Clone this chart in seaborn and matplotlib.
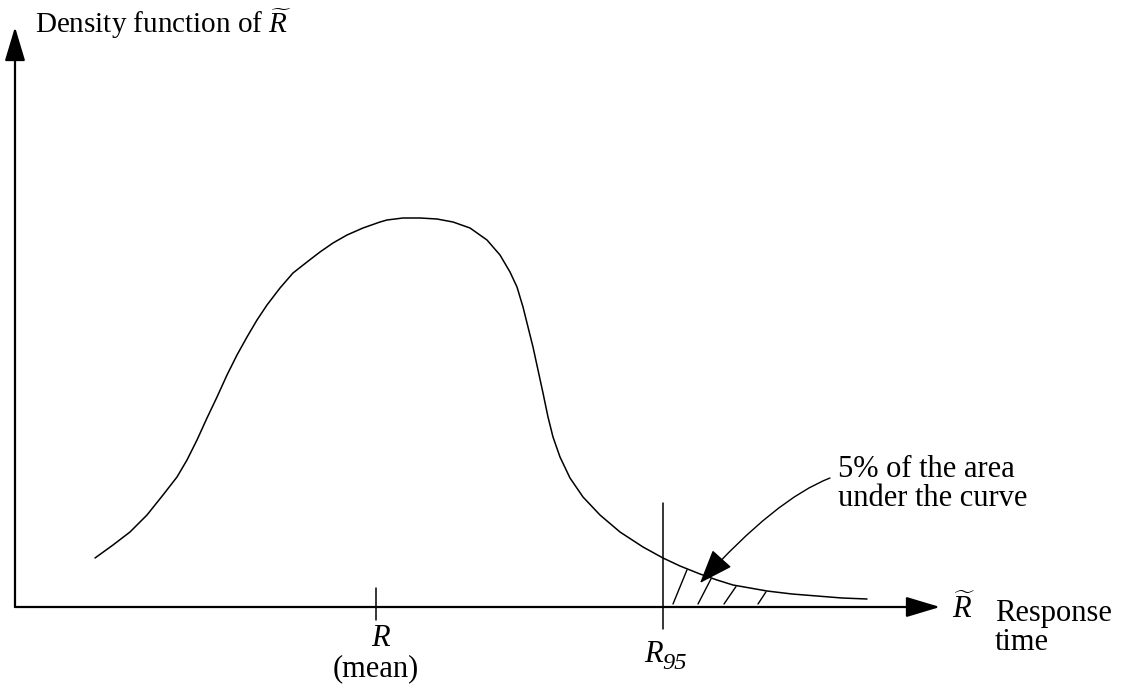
import numpy as np
import pandas as pd
import matplotlib
matplotlib.use("Agg")
import matplotlib.pyplot as plt
import seaborn as sns

# ---- data (pixel-space schematic, y measured downward) ----
curve_x = [95, 113, 130, 147, 163, 177, 187, 197, 207, 217, 227, 237, 247, 257,
           267, 280, 293, 307, 320, 333, 347, 363, 380, 387, 403, 420, 437, 453,
           470, 487, 500, 510, 517, 523, 528, 533, 538, 543, 548, 553, 560, 570,
           583, 600, 620, 643, 663, 680, 700, 717, 733, 750, 767, 792, 817, 842,
           867]
curve_y = [558, 545, 532, 515, 495, 477, 460, 440, 418, 397, 375, 355, 337, 320,
           305, 288, 273, 262, 252, 243, 235, 228, 222, 220, 218, 218, 219, 222,
           228, 240, 255, 272, 287, 307, 327, 347, 370, 393, 417, 437, 457, 478,
           497, 515, 532, 547, 558, 566, 574, 580, 585, 588, 591, 594, 596, 598,
           599]
hatch_top_x = [687, 711, 736, 766]
hatch_bot_x = [673, 698, 724, 758]
mean_x = 376
r95_x = 663
axis_y = 607
axis_x = 15

sns.set_theme(style="white")
plt.rcParams['font.family'] = ['Liberation Serif', 'DejaVu Serif']
plt.rcParams['mathtext.fontset'] = 'custom'
plt.rcParams['mathtext.rm'] = 'Liberation Serif'
plt.rcParams['mathtext.it'] = 'Liberation Serif:italic'
plt.rcParams['text.color'] = 'black'

fig = plt.figure(figsize=(11.31, 7.0), dpi=100)
ax = fig.add_axes([0, 0, 1, 1])
ax.set_xlim(0, 1131)
ax.set_ylim(700, 0)
ax.axis('off')

df = pd.DataFrame({"x": curve_x, "y": curve_y})
sns.lineplot(data=df, x="x", y="y", ax=ax, color="black", lw=1.1,
             sort=False, estimator=None)

# axes with arrows
arr = dict(arrowstyle='-|>,head_length=1.0,head_width=0.3', mutation_scale=21,
           lw=1.6, color='black', shrinkA=0, shrinkB=0)
ax.annotate("", xy=(940, axis_y), xytext=(axis_x, axis_y), arrowprops=arr)
ax.annotate("", xy=(axis_x, 27), xytext=(axis_x, axis_y), arrowprops=arr)

# tick at mean and R95 line
ax.plot([mean_x, mean_x], [588, 620], color='black', lw=1.1)
ax.plot([r95_x, r95_x], [503, 629], color='black', lw=1.1)

# hatching
for tx, bx in zip(hatch_top_x, hatch_bot_x):
    ty = np.interp(tx, curve_x, curve_y)
    ax.plot([bx, tx], [604, ty + 1], color='black', lw=1.0)

# annotation arrow
ax.annotate("", xy=(700, 583), xytext=(830, 478),
            arrowprops=dict(arrowstyle='-|>,head_length=1.2,head_width=0.45',
                            mutation_scale=18, lw=1.0, color='black',
                            shrinkA=0, shrinkB=0,
                            connectionstyle="angle3,angleA=21,angleB=48"))

fs = 22
ax.text(35, 33, r"Density function of $\widetilde{R}$", fontsize=21,
        va='baseline', ha='left', color='black')
ax.text(380, 646, "R", fontsize=fs, ha='center', va='baseline', style='italic',
        color='black')
ax.text(376, 676, "(mean)", fontsize=fs, ha='center', va='baseline', color='black')
ax.text(644, 662, "R", fontsize=fs, ha='left', va='baseline', style='italic',
        color='black')
ax.text(662, 669, "95", fontsize=fs * 0.8, ha='left', va='baseline', style='italic',
        color='black')
ax.text(952, 618, r"$\widetilde{R}$", fontsize=fs, ha='left', va='baseline',
        color='black')
ax.text(995, 650, "Response\ntime", fontsize=fs, ha='left', va='baseline',
        linespacing=1.0, color='black')
ax.text(838, 506, "5% of the area\nunder the curve", fontsize=fs, ha='left',
        va='baseline', linespacing=1.0, color='black')

fig.savefig("out.png", dpi=100)
